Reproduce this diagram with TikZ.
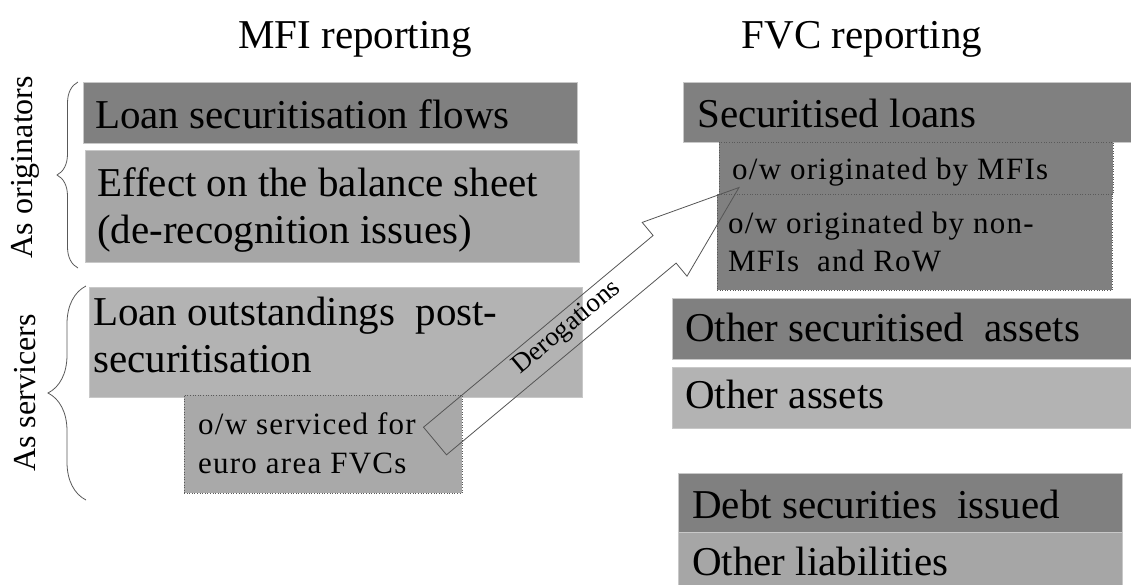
\documentclass[tikz,border=0pt]{standalone}
\usepackage{fontspec}
\setmainfont{Liberation Serif}
\newfontfamily\spacedfont[LetterSpace=4]{Liberation Serif}
\usetikzlibrary{decorations.pathreplacing}
\definecolor{boxdark}{HTML}{808080}
\definecolor{boxmid}{HTML}{A6A6A6}
\definecolor{boxlight}{HTML}{B3B3B3}
\definecolor{subfill}{HTML}{A9A9A9}
\definecolor{edgecol}{HTML}{C8C8C8}
\definecolor{dotcol}{HTML}{5A5A5A}
\definecolor{arrowcol}{HTML}{555555}
\begin{document}
\begin{tikzpicture}[x=1pt,y=-1pt,
  panel/.style={anchor=north west, inner sep=0pt, outer sep=0pt, draw=edgecol, line width=0.6pt},
  subpanel/.style={anchor=north west, inner sep=0pt, outer sep=0pt, draw=dotcol, dotted, line width=0.6pt},
  bigtext/.style={anchor=base west, inner sep=0pt, font=\fontsize{41}{47}\selectfont},
  smalltext/.style={anchor=base west, inner sep=0pt, font=\spacedfont\fontsize{31}{37}\selectfont},
  title/.style={anchor=base, inner sep=0pt, font=\fontsize{41}{47}\selectfont},
  sidetext/.style={rotate=90, inner sep=0pt, font=\fontsize{32}{32}\selectfont},
  bracestyle/.style={decorate, draw=black!65, line width=0.8pt}]
\useasboundingbox (0,0) rectangle (1131,584);

% titles
\node[title] (t1) at (355,48) {MFI reporting};
\node[title] (t2) at (862,48) {FVC reporting};

% left column boxes
\node[panel, fill=boxdark, minimum width=494pt, minimum height=61pt] (lsf) at (83,82) {};
\node[panel, fill=boxmid, minimum width=494pt, minimum height=112pt] (eff) at (85,150) {};
\node[panel, fill=boxlight, minimum width=493pt, minimum height=110pt] (lop) at (89,287) {};
\node[subpanel, fill=subfill, minimum width=278pt, minimum height=98pt] (ows) at (184,395) {};

\node[bigtext] (lsft) at (95,128) {Loan securitisation flows};
\node[bigtext] (efft1) at (97,196) {Effect on the balance sheet};
\node[bigtext] (efft2) at (97,243) {(de-recognition issues)};
\node[bigtext] (lopt1) at (93,325) {Loan outstandings\ \ post-};
\node[bigtext] (lopt2) at (93,372) {securitisation};
\node[smalltext] (owst1) at (198,434) {o/w serviced for};
\node[smalltext] (owst2) at (198,473) {euro area FVCs};

% braces and side labels
\draw[bracestyle, decoration={brace, amplitude=21pt}] (78,268) -- (78,82);
\draw[bracestyle, decoration={brace, amplitude=38pt}] (86,500) -- (86,286);
\node[sidetext] (orig) at (25,167) {As originators};
\node[sidetext] (serv) at (25,393) {As servicers};

% right column boxes
\node[panel, fill=boxdark, minimum width=449pt, minimum height=60pt] (sl) at (683,82) {};
\node[subpanel, fill=boxdark, minimum width=394pt, minimum height=52pt] (owm) at (719,142) {};
\node[subpanel, fill=boxdark, minimum width=395pt, minimum height=96pt] (own) at (717,194) {};
\node[panel, fill=boxdark, minimum width=460pt, minimum height=61pt] (osa) at (672,298) {};
\node[panel, fill=boxlight, minimum width=460pt, minimum height=61pt] (oa) at (672,367) {};
\node[panel, fill=boxdark, minimum width=444pt, minimum height=59pt] (dsi) at (678,473) {};
\node[panel, fill=boxmid, minimum width=444pt, minimum height=53pt] (ol) at (678,532) {};

\node[bigtext] (slt) at (697,127) {Securitised loans};
\node[smalltext] (owmt) at (732,179) {o/w originated by MFIs};
\node[smalltext] (ownt1) at (728,233) {o/w originated by non-};
\node[smalltext] (ownt2) at (728,271) {MFIs\ \ and RoW};
\node[bigtext] (osat) at (685,341) {Other securitised\ \ assets};
\node[bigtext] (oat) at (685,408) {Other assets};
\node[bigtext] (dsit) at (692,518) {Debt securities\ \ issued};
\node[bigtext] (olt) at (692,575) {Other liabilities};

% block arrow from o/w serviced to o/w originated by MFIs
\coordinate (a1) at (423.5,427.2);
\coordinate (a2) at (653.1,235.5);
\coordinate (a3) at (642.2,222.4);
\coordinate (tip) at (739,187.5);
\coordinate (a5) at (687.0,276.2);
\coordinate (a6) at (676.1,263.1);
\coordinate (a7) at (446.5,454.8);
\draw[draw=arrowcol, line width=0.8pt, line join=miter]
  (a1) -- (a2) -- (a3) -- (tip) -- (a5) -- (a6) -- (a7) -- cycle;
\node[rotate=39.86, inner sep=0pt, font=\fontsize{27}{27}\selectfont] (der) at (567,328) {Derogations};
\end{tikzpicture}
\end{document}
